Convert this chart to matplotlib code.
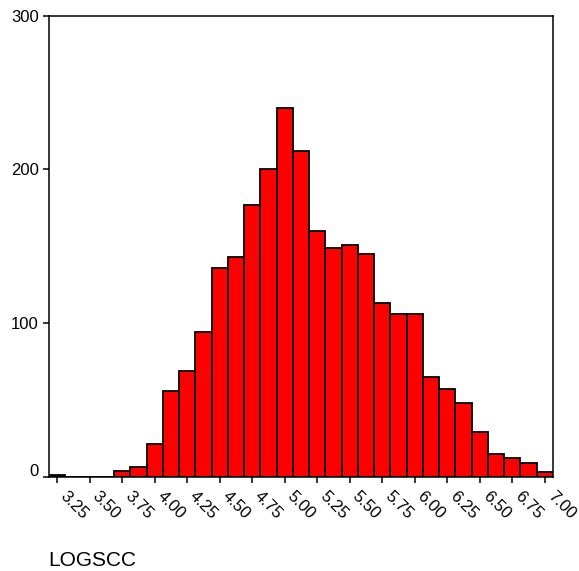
import matplotlib
matplotlib.use("Agg")
import matplotlib.pyplot as plt
from matplotlib.transforms import ScaledTranslation

plt.rcParams['font.family'] = ['Liberation Sans', 'DejaVu Sans']

# histogram of LOGSCC, bins 0.125 wide, given by their midpoints
bin_mids = [3.25, 3.375, 3.5, 3.625, 3.75, 3.875, 4.0, 4.125, 4.25, 4.375,
            4.5, 4.625, 4.75, 4.875, 5.0, 5.125, 5.25, 5.375, 5.5, 5.625,
            5.75, 5.875, 6.0, 6.125, 6.25, 6.375, 6.5, 6.625, 6.75, 6.875, 7.0]
counts = [1, 0, 0, 0, 4, 6, 21, 56, 69, 94,
          136, 143, 177, 200, 240, 212, 160, 149, 151, 145,
          113, 106, 106, 65, 57, 48, 29, 15, 12, 9, 3]
bin_width = 0.125

x_ticks = [3.25, 3.5, 3.75, 4.0, 4.25, 4.5, 4.75, 5.0,
           5.25, 5.5, 5.75, 6.0, 6.25, 6.5, 6.75, 7.0]
x_ticklabels = ['3.25', '3.50', '3.75', '4.00', '4.25', '4.50', '4.75', '5.00',
                '5.25', '5.50', '5.75', '6.00', '6.25', '6.50', '6.75', '7.00']
y_ticks = [0, 100, 200, 300]

fig = plt.figure(figsize=(5.79, 5.71), dpi=100)
ax = fig.add_axes([49 / 579, 1 - 476.7 / 571, 504 / 579, 461 / 571])

ax.bar(bin_mids, counts, width=bin_width, color='#ff0000',
       edgecolor='black', linewidth=1.3)

ax.set_xlim(bin_mids[0] - bin_width / 2, bin_mids[-1] + bin_width / 2)
ax.set_ylim(0, 300)

ax.set_yticks(y_ticks)
ax.set_yticklabels([str(v) for v in y_ticks], fontsize=12)
ax.set_xticks(x_ticks)
ax.set_xticklabels(x_ticklabels, fontsize=12, rotation=-45,
                   ha='left', va='center', rotation_mode='anchor')

ax.tick_params(axis='both', direction='out', length=4.5, width=1.1, color='black')
ax.tick_params(axis='y', pad=3)
ax.tick_params(axis='x', pad=8)
# nudge the slanted labels a little to the right
shift = ScaledTranslation(5 / 100, 0, fig.dpi_scale_trans)
for lbl in ax.get_xticklabels():
    lbl.set_transform(lbl.get_transform() + shift)
# the zero label sits slightly above its tick
ax.get_yticklabels()[0].set_transform(
    ax.get_yticklabels()[0].get_transform() + ScaledTranslation(0, 7 / 100, fig.dpi_scale_trans))

for side in ax.spines.values():
    side.set_linewidth(1.1)
    side.set_color('black')

fig.text(48 / 579, 1 - 560 / 571, 'LOGSCC', fontsize=15, va='center', ha='left')

fig.savefig('out.png', dpi=100)
